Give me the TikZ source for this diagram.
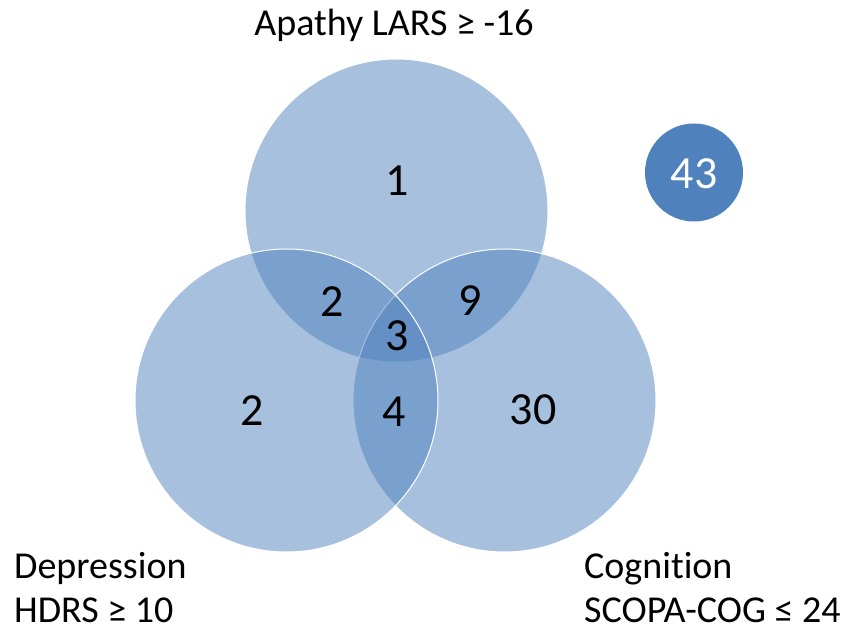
\documentclass[tikz,border=0pt]{standalone}
\usepackage{fontspec}
\setmainfont{Carlito}[Ligatures=NoCommon]
\definecolor{officeblue}{RGB}{79,129,189}
\tikzset{
  setc/.style={fill=officeblue, fill opacity=0.5, draw=white, draw opacity=1, line width=1pt},
  lbl/.style={font=\fontsize{38}{42}\selectfont, text=black, inner sep=0pt},
  num/.style={font=\fontsize{46}{50}\selectfont, text=black, inner sep=0pt, anchor=center}
}
\begin{document}
\begin{tikzpicture}[x=1pt,y=-1pt]
\useasboundingbox (0,0) rectangle (844,636);
\path[setc] (396.5,210.5) circle (151.5);
\path[setc] (504.5,400.5) circle (151.5);
\path[setc] (286.5,400.5) circle (151.5);
\node[circle, fill=officeblue, minimum size=98pt, inner sep=0pt] (none) at (694,172.5) {};
\node[num, text=white] (n43) at (694,174) {43};
\node[num] (n1) at (397,181) {1};
\node[num] (n2a) at (332,302) {2};
\node[num] (n9) at (470,301) {9};
\node[num] (n3) at (397,336) {3};
\node[num] (n2b) at (252,411) {2};
\node[num] (n4) at (394,412) {4};
\node[num] (n30) at (533,410) {30};
\node[lbl, anchor=base] (apathy) at (394,36) {Apathy LARS ≥ -16};
\node[lbl, anchor=base west] (dep1) at (14,578) {Depression};
\node[lbl, anchor=base west] (dep2) at (14,622) {HDRS ≥ 10};
\node[lbl, anchor=base west] (cog1) at (584,578) {Cognition};
\node[lbl, anchor=base west] (cog2) at (584,622) {SCOPA-COG ≤ 24};
\end{tikzpicture}
\end{document}
